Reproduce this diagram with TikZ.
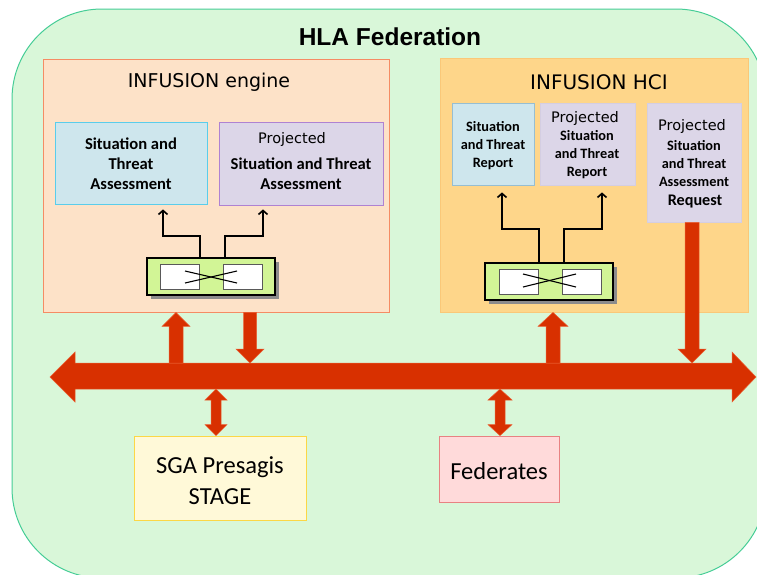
\documentclass[tikz,border=0pt]{standalone}
\usepackage{fontspec}
\setmainfont{Carlito}
\newfontfamily\dvfont{DejaVu Sans}
\newfontfamily\lsfont{Liberation Sans}
\usetikzlibrary{arrows.meta,calc,shadows}

\definecolor{fedfill}{RGB}{217,247,217}
\definecolor{fedline}{RGB}{70,205,150}
\definecolor{engfill}{RGB}{253,226,200}
\definecolor{engline}{RGB}{245,140,100}
\definecolor{hcifill}{RGB}{254,214,138}
\definecolor{hciline}{RGB}{250,200,120}
\definecolor{bluefill}{RGB}{206,230,237}
\definecolor{blueline}{RGB}{90,205,235}
\definecolor{bluegrey}{RGB}{150,190,210}
\definecolor{lavfill}{RGB}{220,214,232}
\definecolor{lavline}{RGB}{175,130,210}
\definecolor{lavpale}{RGB}{212,206,226}
\definecolor{swfill}{RGB}{210,245,150}
\definecolor{busred}{RGB}{216,48,0}
\definecolor{busedge}{RGB}{235,95,50}
\definecolor{yelfill}{RGB}{255,249,216}
\definecolor{yelline}{RGB}{252,215,70}
\definecolor{pinkfill}{RGB}{255,218,218}
\definecolor{pinkline}{RGB}{232,130,130}

% vertical block arrow: tip, tail, direction (1 = down, -1 = up),
% head half-width, stem half-width, head length
\newcommand\vblock[6]{%
  \path[blockarrow] let \p1=(#1),\p2=(#2),\n1={(#3)*#6} in
    (\x1,\y1) -- ({\x1-#4},{\y1+\n1}) -- ({\x1-#5},{\y1+\n1}) -- ({\x1-#5},\y2)
    -- ({\x1+#5},\y2) -- ({\x1+#5},{\y1+\n1}) -- ({\x1+#4},{\y1+\n1}) -- cycle;}
% vertical two-headed block arrow: upper end, lower end,
% head half-width, stem half-width, head length
\newcommand\dblock[5]{%
  \path[blockarrow] let \p1=(#1),\p2=(#2) in
    (\x1,\y1) -- ({\x1+#3},{\y1-#5}) -- ({\x1+#4},{\y1-#5}) -- ({\x1+#4},{\y2+#5})
    -- ({\x1+#3},{\y2+#5}) -- (\x1,\y2) -- ({\x1-#3},{\y2+#5}) -- ({\x1-#4},{\y2+#5})
    -- ({\x1-#4},{\y1-#5}) -- ({\x1-#3},{\y1-#5}) -- cycle;}

\begin{document}
\begin{tikzpicture}[x=1pt,y=-1pt,
  box/.style={draw,rectangle,line width=0.8pt,inner sep=0pt},
  switchbox/.style={draw=black,fill=swfill,line width=2.4pt,rectangle,inner sep=0pt,
    minimum width=128pt,minimum height=37pt,
    drop shadow={shadow xshift=3.5pt,shadow yshift=-3.5pt,opacity=1,fill=black!45}},
  cell/.style={draw=black!65,fill=white,line width=0.9pt,rectangle,inner sep=0pt,
    minimum width=39pt,minimum height=25pt},
  xline/.style={black,line width=1.1pt},
  wire/.style={black,line width=1.6pt,-{Straight Barb[length=4pt,width=9pt]}},
  blockarrow/.style={fill=busred,draw=busedge,line width=0.5pt},
  boldtxt/.style={font=\bfseries,align=center,inner sep=0pt},
  projtxt/.style={font=\dvfont\fontsize{14.5}{17}\selectfont,inner sep=0pt}]

\useasboundingbox (0,0) rectangle (757,574);

% federation frame
\draw[fill=fedfill,draw=fedline,line width=1pt,rounded corners=90pt]
  (12,9) rectangle (766,578);
\node[font=\lsfont\bfseries\fontsize{24.5}{29}\selectfont] (title) at (390,37) {HLA Federation};

% the two component boxes
\node[box,fill=engfill,draw=engline,minimum width=346pt,minimum height=253pt] (engine) at (216,185.5) {};
\node[font=\dvfont\fontsize{19}{22}\selectfont] (engtitle) at (209,82) {INFUSION engine};
\node[box,fill=hcifill,draw=hciline,minimum width=308pt,minimum height=254pt] (hci) at (594,185) {};
\node[font=\dvfont\fontsize{20}{23}\selectfont] (hcititle) at (599,82) {INFUSION HCI};

% engine contents
\node[box,fill=bluefill,draw=blueline,minimum width=152pt,minimum height=82pt] (saL) at (131,163) {};
\node[boldtxt,font=\bfseries\fontsize{16.6}{20}\selectfont] (saLt) at (131,164)
  {Situation and\\Threat\\Assessment};
\node[box,fill=lavfill,draw=lavline,minimum width=164pt,minimum height=83pt] (psaL) at (301,163.5) {};
\node[projtxt] (psaLp) at (292,139) {Projected};
\node[boldtxt,font=\bfseries\fontsize{16.6}{20}\selectfont] (psaLt) at (301,174)
  {Situation and Threat\\Assessment};

\node[switchbox] (swL) at (211,276.5) {};
\node[cell] (swLa) at ([xshift=-31.5pt]swL.center) {};
\node[cell] (swLb) at ([xshift=32pt]swL.center) {};
\draw[xline] ([shift={(-26,-5.5)}]swL.center) -- ([shift={(26,6.5)}]swL.center);
\draw[xline] ([shift={(-26,6.5)}]swL.center) -- ([shift={(26,-5.5)}]swL.center);

\draw[wire] ([xshift=-11pt]swL.north) -- ++(0,-21) -| ([xshift=32pt,yshift=-5pt]saL.south);
\draw[wire] ([xshift=14pt]swL.north) -- ++(0,-21) -| ([xshift=-38pt,yshift=-4pt]psaL.south);

% HCI contents
\node[box,fill=bluefill,draw=bluegrey,minimum width=82pt,minimum height=82pt] (saR) at (493,144) {};
\node[boldtxt,font=\bfseries\fontsize{14.3}{18}\selectfont] (saRt) at (493,146)
  {Situation\\and Threat\\Report};
\node[box,fill=lavfill,draw=lavpale,minimum width=95pt,minimum height=82pt] (psaR) at (587.5,144) {};
\node[projtxt] (psaRp) at (585,118) {Projected};
\node[boldtxt,font=\bfseries\fontsize{14.3}{18}\selectfont] (psaRt) at (587,155)
  {Situation\\and Threat\\Report};
\node[box,fill=lavfill,draw=lavpale,minimum width=94pt,minimum height=119pt] (req) at (694,162.5) {};
\node[projtxt] (reqp) at (692,126) {Projected};
\node[boldtxt,font=\bfseries\fontsize{14.3}{18}\selectfont] (reqt) at (694,164)
  {Situation\\and Threat\\Assessment};
\node[boldtxt,font=\bfseries\fontsize{16.2}{19}\selectfont] (reqr) at (695,202) {Request};

\node[switchbox] (swR) at (549,281.5) {};
\node[cell] (swRa) at ([xshift=-30.5pt]swR.center) {};
\node[cell] (swRb) at ([xshift=32.5pt]swR.center) {};
\draw[xline] ([shift={(-26,-7.5)}]swR.center) -- ([shift={(27,5.5)}]swR.center);
\draw[xline] ([shift={(-26,5.5)}]swR.center) -- ([shift={(27,-7.5)}]swR.center);

\draw[wire] ([xshift=-10pt]swR.north) -- ++(0,-33) -| ([xshift=9pt,yshift=-7pt]saR.south);
\draw[wire] ([xshift=15pt]swR.north) -- ++(0,-33) -| ([xshift=14.5pt,yshift=-7pt]psaR.south);

% lower federates
\node[box,fill=yelfill,draw=yelline,minimum width=172pt,minimum height=84pt] (sga) at (220,478) {};
\node[align=center,inner sep=0pt,font=\fontsize{24.5}{31}\selectfont] (sgat) at (220,481)
  {SGA Presagis\\STAGE};
\node[box,fill=pinkfill,draw=pinkline,minimum width=120pt,minimum height=66pt] (fed) at (499,469) {};
\node[inner sep=0pt,font=\fontsize{24.5}{29}\selectfont] (fedt) at (499,471) {Federates};

% RTI bus
\coordinate (busTop) at (0,363);
\coordinate (busBot) at (0,389);
\path[blockarrow] (50,377) -- (75,352) -- (75,363) -- (732,363) -- (732,352) -- (756,377)
  -- (732,402) -- (732,389) -- (75,389) -- (75,402) -- cycle;

% links to and from the bus
\coordinate (xa) at (176,0);
\coordinate (xb) at (250,0);
\coordinate (xc) at (553,0);
\coordinate (xd) at (692,0);
\coordinate (xe) at (216,0);
\coordinate (xf) at (500,0);
\vblock{xa |- engine.south}{xa |- busTop}{-1}{14pt}{7pt}{14pt}
\vblock{xb |- busTop}{xb |- engine.south}{1}{14pt}{6.5pt}{14pt}
\vblock{xc |- hci.south}{xc |- busTop}{-1}{15pt}{7pt}{14pt}
\vblock{xd |- busTop}{xd |- req.south}{1}{14pt}{7pt}{14pt}
\dblock{xe |- busBot}{xe |- sga.north}{11pt}{5pt}{11pt}
\dblock{xf |- busBot}{xf |- fed.north}{12pt}{5pt}{11pt}

\end{tikzpicture}
\end{document}
